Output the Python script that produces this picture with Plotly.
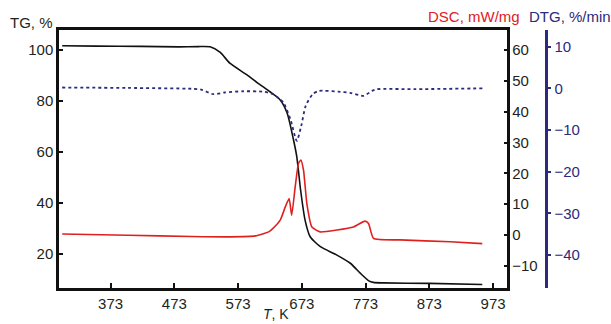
import plotly.graph_objects as go

# ---- data ----
tg_T = [297, 350, 420, 480, 510, 529, 545, 560, 587, 605, 623, 639, 650, 660, 665, 671, 678, 686, 702, 728, 749, 765, 778, 785, 800, 873, 956]
tg_val = [101.6, 101.5, 101.4, 101.2, 101.3, 101.2, 99.0, 94.8, 90.2, 86.8, 83.6, 80.4, 75.2, 64.6, 58.2, 45.1, 33.3, 26.8, 22.9, 19.6, 16.4, 12.4, 9.5, 8.9, 8.7, 8.5, 8.1]

dsc_T = [297, 400, 500, 560, 600, 621, 626, 639, 647, 653, 657, 662.5, 667.7, 671.4, 675.6, 680.8, 688.7, 701.7, 728, 754, 772, 777.6, 785.4, 827, 906, 956]
dsc_val = [0.3, -0.1, -0.5, -0.6, -0.3, 1.0, 1.8, 4.8, 9.1, 11.8, 6.4, 15.6, 23.2, 24.3, 21.0, 10.2, 2.6, 1.0, 1.6, 2.6, 4.5, 3.7, -1.1, -1.6, -2.2, -2.8]

dtg_T = [297, 400, 500, 515, 534, 552, 581, 613, 628, 644, 655, 665, 672, 679, 690, 700, 730, 749, 770, 783, 791, 850, 957]
dtg_val = [0.2, 0.1, -0.1, -0.3, -1.4, -1.0, -0.7, -0.8, -1.4, -3.4, -7.4, -12.6, -9.0, -4.2, -1.4, -0.6, -0.8, -1.1, -1.8, -0.6, -0.2, -0.2, 0.0]

x_ticks = [373, 473, 573, 673, 773, 873, 973]
tg_ticks = [20, 40, 60, 80, 100]
dsc_ticks = [-10, 0, 10, 20, 30, 40, 50, 60]
dtg_ticks = [-40, -30, -20, -10, 0, 10]

FONT = "Liberation Sans, Arial, sans-serif"
TXT = "#231f20"
RED = "#e0201e"
NAVY = "#2b2a7c"

fig = go.Figure()
fig.add_trace(go.Scatter(x=tg_T, y=tg_val, mode="lines", line=dict(color="#111111", width=1.6, shape="spline", smoothing=0.6), yaxis="y"))
fig.add_trace(go.Scatter(x=dsc_T, y=dsc_val, mode="lines", line=dict(color=RED, width=1.6, shape="spline", smoothing=0.5), yaxis="y2"))
fig.add_trace(go.Scatter(x=dtg_T, y=dtg_val, mode="lines", line=dict(color=NAVY, width=1.8, dash="dot", shape="spline", smoothing=0.6), yaxis="y3"))

W, H = 611, 324
ml, mr, mt, mb = 59, 40, 30, 36
pw = W - ml - mr
ph = H - mt - mb
x_end = (506.5 - ml) / pw
dtg_pos = (545.7 - ml) / pw

def px_to_paper(px, py):
    return (px - ml) / pw, 1 - (py - mt) / ph

ann_specs = [
    ("TG, %", 8, 23, TXT, "left", "middle", 15),
    ("DSC, mW/mg", 426, 17, RED, "left", "middle", 15),
    ("DTG, %/min", 527, 17, NAVY, "left", "middle", 15),
    ("<i>T</i>, K", 276, 324, TXT, "center", "bottom", 14),
]
annotations = []
for text, px, py, col, xa, ya, fs in ann_specs:
    ax, ay = px_to_paper(px, py)
    annotations.append(dict(text=text, x=ax, y=ay, xref="paper", yref="paper", showarrow=False,
                            font=dict(size=fs, color=col), xanchor=xa, yanchor=ya))

fig.update_layout(
    width=W, height=H,
    margin=dict(l=ml, r=mr, t=mt, b=mb, pad=0, autoexpand=False),
    paper_bgcolor="white", plot_bgcolor="white",
    showlegend=False,
    font=dict(family=FONT, size=15, color=TXT),
    xaxis=dict(domain=[0, x_end], range=[292, 994], tickvals=x_ticks,
               showline=True, linecolor="#111111", linewidth=2.5, mirror=True,
               ticks="inside", ticklen=5, tickwidth=2, tickcolor="#111111",
               showgrid=False, zeroline=False, tickfont=dict(size=15, color=TXT)),
    yaxis=dict(range=[6.7, 107.8], tickvals=tg_ticks,
               showline=True, linecolor="#111111", linewidth=2.5,
               ticks="inside", ticklen=4, tickwidth=2, tickcolor="#111111",
               showgrid=False, zeroline=False, tickfont=dict(size=15, color=TXT)),
    yaxis2=dict(range=[-17.2, 66.5], tickvals=dsc_ticks, overlaying="y", side="right", anchor="x",
                showline=True, linecolor="#111111", linewidth=2.5,
                ticks="inside", ticklen=3, tickwidth=2, tickcolor="#111111",
                showgrid=False, zeroline=False, tickfont=dict(size=15, color=TXT)),
    yaxis3=dict(range=[-47.9, 14], tickvals=dtg_ticks, overlaying="y", side="right", anchor="free",
                position=dtg_pos,
                showline=True, linecolor=NAVY, linewidth=2.5,
                ticks="outside", ticklen=4, tickwidth=2, tickcolor=NAVY,
                showgrid=False, zeroline=False, tickfont=dict(size=15, color=NAVY)),
    annotations=annotations,
)

fig.write_html("out.html",
               config={"displayModeBar": False},
               post_script="document.body.style.margin='0';document.body.style.padding='0';")
